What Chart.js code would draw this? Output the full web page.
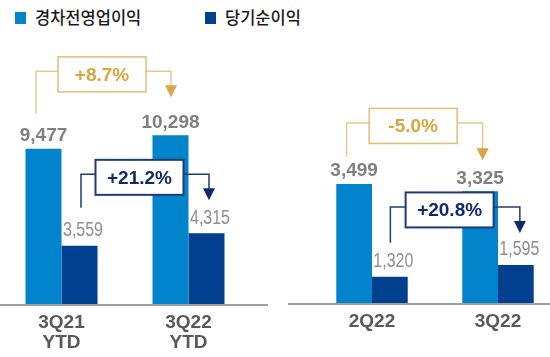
<!DOCTYPE html>
<html><head><meta charset="utf-8">
<script src="https://cdn.jsdelivr.net/npm/chart.js@4/dist/chart.umd.min.js"></script>
<style>
html,body{margin:0;padding:0;width:550px;height:357px;overflow:hidden;background:#fff;position:relative}
#c1{position:absolute;left:-2px;top:0}
#c2{position:absolute;left:280px;top:0}
.sq{position:absolute;top:12px;width:11px;height:12px}
.lt{position:absolute;top:7px;font-family:"Noto Sans CJK KR";font-weight:500;font-size:16.5px;line-height:20px;color:#1a1a1a;white-space:nowrap}
</style></head>
<body>
<div id="legend"></div>
<canvas id="c1" width="272" height="357"></canvas>
<canvas id="c2" width="281" height="357"></canvas>
<script>
const seriesNames = ["경차전영업이익", "당기순이익"];
const seriesColors = ["#0284CC", "#00408F"];
const categoriesYtd = [["3Q21", "YTD"], ["3Q22", "YTD"]];
const operatingYtd = [9477, 10298];
const netYtd = [3559, 4315];
const changeYtd = ["+8.7%", "+21.2%"];
const categoriesQ = ["2Q22", "3Q22"];
const operatingQ = [3499, 3325];
const netQ = [1320, 1595];
const changeQ = ["-5.0%", "+20.8%"];

// legend
const lg = document.getElementById('legend');
const lgX = [15, 205];
seriesNames.forEach((n, i) => {
  const s = document.createElement('div'); s.className = 'sq';
  s.style.left = lgX[i] + 'px'; s.style.background = seriesColors[i]; lg.appendChild(s);
  const t = document.createElement('div'); t.className = 'lt';
  t.style.left = (lgX[i] + 20) + 'px'; t.textContent = n; lg.appendChild(t);
});

const GOLD = {line: '#E8C98C', border: '#E3BE76', head: '#D9A441', text: '#D9A441', bw: 1.5};
const NAVY = {line: '#1F3B73', border: '#1F3B73', head: '#10296A', text: '#10296A', bw: 2};

const deco = {
  id: 'deco',
  afterDatasetsDraw(chart, args, opts) {
    const ctx = chart.ctx;
    const ys = chart.scales.y;
    ctx.save();
    ctx.strokeStyle = '#A0A0A0'; ctx.lineWidth = 2;
    ctx.beginPath(); ctx.moveTo(opts.axisFrom, ys.bottom + 1); ctx.lineTo(opts.axisTo, ys.bottom + 1); ctx.stroke();
    ctx.textAlign = 'center'; ctx.textBaseline = 'middle';
    chart.data.datasets.forEach((ds, di) => {
      const meta = chart.getDatasetMeta(di);
      meta.data.forEach((bar, i) => {
        const txt = ds.data[i].toLocaleString('en-US');
        if (di === 0) {
          ctx.font = 'bold 19px "Liberation Sans"';
          ctx.fillStyle = '#7F7F7F';
          ctx.fillText(txt, bar.x, bar.y - 13);
        } else {
          ctx.save();
          ctx.translate(bar.x + 3.5, bar.y - 15);
          ctx.scale(0.8, 1);
          ctx.font = '20px "Liberation Sans"';
          ctx.fillStyle = '#8E8E8E';
          ctx.fillText(txt, 0, 0);
          ctx.restore();
        }
      });
    });
    opts.brackets.forEach(b => {
      const m = chart.getDatasetMeta(b.ds);
      const f = m.data[0], t = m.data[1];
      const lx = f.x + b.dxFrom, rx = t.x + b.dxTo;
      const level = Math.min(f.y, t.y) - b.rise;
      const y0 = f.y - b.gapFrom, tip = t.y - b.gapTo;
      const bx = (lx + rx) / 2 + b.boxDx, by = level + 3;
      const st = b.style;
      ctx.strokeStyle = st.line; ctx.lineWidth = 1.5;
      ctx.beginPath(); ctx.moveTo(lx, y0); ctx.lineTo(lx, level); ctx.lineTo(rx, level); ctx.lineTo(rx, tip - 10); ctx.stroke();
      ctx.fillStyle = st.head;
      ctx.beginPath(); ctx.moveTo(rx - 6, tip - 12); ctx.lineTo(rx + 6, tip - 12); ctx.lineTo(rx, tip); ctx.closePath(); ctx.fill();
      ctx.fillStyle = '#fff'; ctx.fillRect(bx - 44, by - 17.5, 88, 35);
      ctx.strokeStyle = st.border; ctx.lineWidth = st.bw; ctx.strokeRect(bx - 44, by - 17.5, 88, 35);
      ctx.fillStyle = st.text; ctx.font = 'bold 19px "Liberation Sans"';
      ctx.fillText(b.label, bx, by + 1);
    });
    ctx.restore();
  }
};

function makeChart(id, cats, op, net, yMin, yMax, pad, axisH, axisFrom, axisTo, brackets) {
  return new Chart(document.getElementById(id), {
    type: 'bar',
    data: {
      labels: cats,
      datasets: [
        {label: seriesNames[0], data: op, backgroundColor: seriesColors[0], categoryPercentage: 0.567, barPercentage: 1},
        {label: seriesNames[1], data: net, backgroundColor: seriesColors[1], categoryPercentage: 0.567, barPercentage: 1}
      ]
    },
    options: {
      responsive: false, animation: false,
      layout: {padding: pad},
      plugins: {legend: {display: false}, tooltip: {enabled: false},
        deco: {axisFrom, axisTo, brackets}},
      scales: {
        x: {grid: {display: false, drawTicks: false}, border: {display: false},
            ticks: {color: '#595959', padding: 9, font: {family: 'Liberation Sans', size: 19, weight: 'bold', lineHeight: 1.06}},
            afterFit(s) { s.height = axisH; }},
        y: {display: false, min: yMin, max: yMax}
      }
    },
    plugins: [deco]
  });
}

makeChart('c1', categoriesYtd, operatingYtd, netYtd, 0, 16000, {top: 42, left: 0, right: 18, bottom: 0}, 53, 2, 270, [
  {ds: 0, label: changeYtd[0], style: GOLD, rise: 64, gapFrom: 35, gapTo: 38, dxFrom: -7.5, dxTo: 0.5, boxDx: -1.5},
  {ds: 1, label: changeYtd[1], style: NAVY, rise: 59, gapFrom: 38, gapTo: 33, dxFrom: 1.5, dxTo: 2.5, boxDx: -5.5}
]);
makeChart('c2', categoriesQ, operatingQ, netQ, 700, 7000, {top: 35, left: 29, right: 0, bottom: 0}, 54, 8, 270, [
  {ds: 0, label: changeQ[0], style: GOLD, rise: 61, gapFrom: 27, gapTo: 31, dxFrom: -7.5, dxTo: 2.5, boxDx: -1.5},
  {ds: 1, label: changeQ[1], style: NAVY, rise: 58, gapFrom: 34, gapTo: 32, dxFrom: 0.5, dxTo: 4, boxDx: -5.5}
]);
</script>
</body></html>
